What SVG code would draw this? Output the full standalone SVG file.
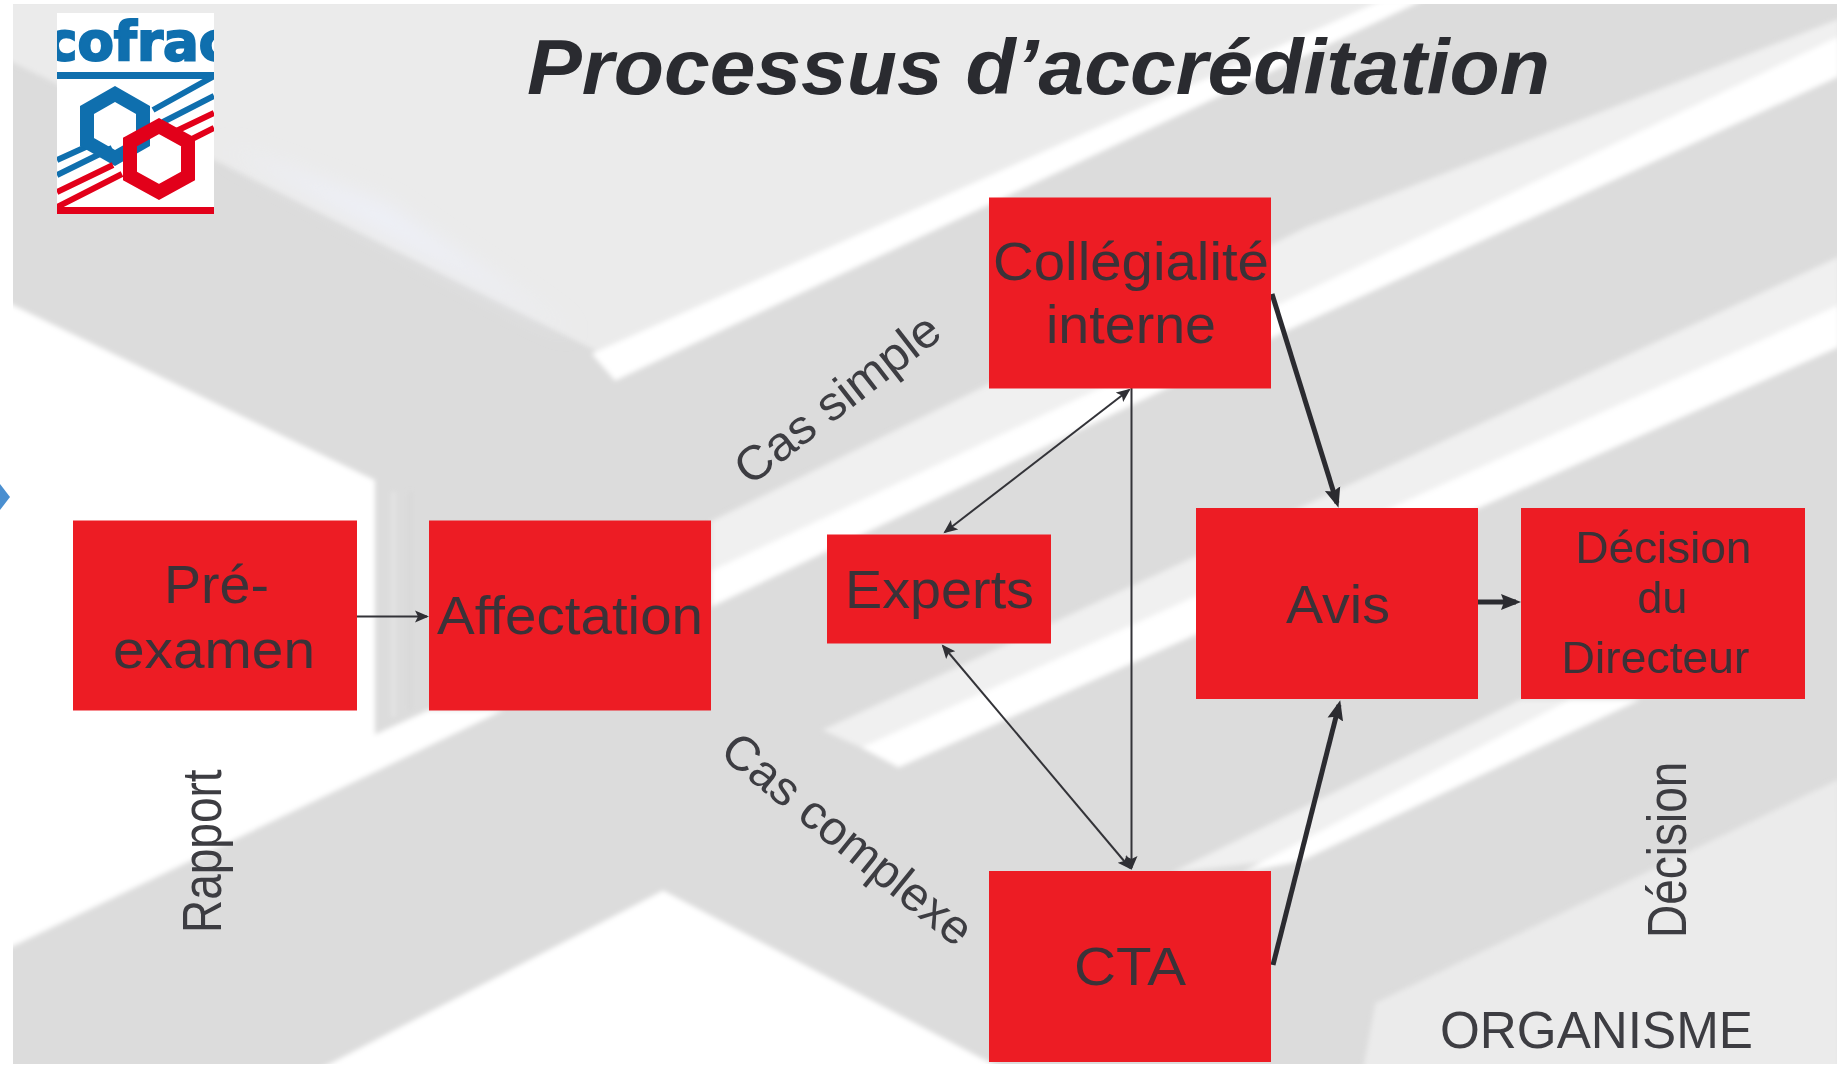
<svg xmlns="http://www.w3.org/2000/svg" width="1837" height="1066" viewBox="0 0 1837 1066">
<style>
.box{fill:#ed1c24}
.t{font-family:"Liberation Sans",Arial,sans-serif;fill:#3b3238}
.l{font-family:"Liberation Sans",Arial,sans-serif;fill:#3d3d42;font-size:46px}
.thin{stroke:#333338;stroke-width:2;fill:none;marker-end:url(#ah);marker-start:url(#ah)}
.thick{stroke:#2b2b30;stroke-width:5;fill:none;marker-end:url(#ahb)}
.w{fill:#fff}.s{fill:#f0f0f0}
.bl{fill:none;stroke:#0f6fae}.rd{fill:none;stroke:#e2001a}
</style>
<defs>
<marker id="ah" markerUnits="userSpaceOnUse" markerWidth="16" markerHeight="14" refX="12" refY="7" orient="auto-start-reverse"><path d="M0 1L14 7L0 13L3 7Z" fill="#2f2f34"/></marker>
<marker id="ahb" markerUnits="userSpaceOnUse" markerWidth="22" markerHeight="20" refX="15" refY="10" orient="auto"><path d="M0 2L20 10L0 18L3 10Z" fill="#2b2b30"/></marker>
<filter id="soft" x="-5%" y="-5%" width="110%" height="110%"><feGaussianBlur stdDeviation="2.2"/></filter>
<filter id="soft2" x="-20%" y="-20%" width="140%" height="140%"><feGaussianBlur stdDeviation="9"/></filter>
<clipPath id="bgclip"><rect x="13" y="4" width="1824" height="1060"/></clipPath>
<clipPath id="logoclip"><rect x="57" y="13" width="157" height="201"/></clipPath>
</defs>
<rect width="1837" height="1066" fill="#fff"/>
<g id="background" clip-path="url(#bgclip)">
<rect x="13" y="4" width="1824" height="1062" fill="#dcdcdc"/>
<g transform="scale(1.1716)" filter="url(#soft)">
<polygon points="0,0 1200,0 510,300 180,135 0,48" fill="#ebebeb"/>
<polygon points="505,302 1180,0 1215,0 525,325" class="w"/>
<polygon points="0,255 320,410 320,627 366,606 430,606 0,813" class="w"/>
<polygon points="566,760 268,915 860,915" class="w"/>
<polygon points="607,445 1115,194 1570,16 1570,32 1099,256 607,487" class="s"/>
<polygon points="607,487 1099,256 1570,31 1570,65 1099,282 607,518" class="w"/>
<polygon points="702,623 735,638 1570,260 1570,219" class="s"/>
<polygon points="735,638 767,655 1570,296 1570,260" class="w"/>
<polygon points="1000,745 1085,735 1400,597 1298,597" class="s"/>
<polygon points="1060,745 1110,735 1400,597 1340,597" class="w"/>
<polygon points="1163,915 1174,856 1570,665 1570,915" fill="#ebebeb"/>
<line x1="336" y1="420" x2="336" y2="612" stroke="#e6e6e6" stroke-width="3"/>
<line x1="350" y1="420" x2="350" y2="606" stroke="#d4d4d4" stroke-width="2"/>
</g>
<polygon transform="scale(1.1716)" points="190,125 490,285 330,175" fill="#eef0f8" filter="url(#soft2)"/>
</g>
<polygon points="0,484 10,497 0,510" fill="#4a8fd0"/>
<g id="logo">
<rect x="57" y="13" width="157" height="201" fill="#fff"/>
<g clip-path="url(#logoclip)">
<text transform="translate(46,60)" font-family="'DejaVu Sans',sans-serif" font-weight="700" font-size="53" fill="#0f6fae" stroke="#0f6fae" stroke-width="2">cofrac</text>
<rect x="57" y="72" width="157" height="7" fill="#0f6fae"/>
<path class="bl" stroke-width="6" d="M214 76L153 110M214 96L163 122M57 160L88 146M57 175L112 148"/>
<polygon class="bl" stroke-width="14" points="115,94 143,110 143,142 115,158 87,142 87,110"/>
<path class="rd" stroke-width="6" d="M214 113L170 134M214 128L190 140M57 192L113 165M57 207L122 174"/>
<rect x="57" y="207" width="157" height="7" fill="#e2001a"/>
<polygon class="rd" stroke-width="14" points="159,126 188,142 188,176 159,192 130,176 130,142"/>
</g>
</g>
<text id="title" x="527" y="94" font-family="'Liberation Sans',Arial,sans-serif" font-weight="700" font-style="italic" font-size="78" fill="#2a2b30" textLength="1023" lengthAdjust="spacingAndGlyphs">Processus d’accréditation</text>
<g id="connectors">
<line class="thin" x1="357" y1="616.5" x2="427" y2="616.5" style="marker-start:none"/>
<line class="thin" x1="1129" y1="390" x2="945" y2="532"/>
<line class="thin" x1="1131.5" y1="388" x2="1131.5" y2="868" style="marker-start:none"/>
<line class="thin" x1="943" y1="646" x2="1130" y2="868"/>
<line class="thick" x1="1272" y1="294" x2="1337" y2="503"/>
<line class="thick" x1="1273" y1="965" x2="1339" y2="705"/>
<line class="thick" x1="1478" y1="602" x2="1516" y2="602"/>
</g>
<g id="node-preexamen"><rect class="box" x="73" y="520.5" width="284" height="190"/>
<text class="t" x="164" y="603" font-size="53" textLength="105" lengthAdjust="spacingAndGlyphs">Pré-</text>
<text class="t" x="113" y="668" font-size="53" textLength="202" lengthAdjust="spacingAndGlyphs">examen</text></g>
<g id="node-affectation"><rect class="box" x="429" y="520.5" width="282" height="190"/>
<text class="t" x="437" y="634" font-size="53" textLength="266" lengthAdjust="spacingAndGlyphs">Affectation</text></g>
<g id="node-experts"><rect class="box" x="827" y="534.5" width="224" height="109"/>
<text class="t" x="845" y="608" font-size="53" textLength="189" lengthAdjust="spacingAndGlyphs">Experts</text></g>
<g id="node-collegialite"><rect class="box" x="989" y="197.5" width="282" height="191"/>
<text class="t" x="993" y="280" font-size="53" textLength="276" lengthAdjust="spacingAndGlyphs">Collégialité</text>
<text class="t" x="1046" y="343" font-size="53" textLength="170" lengthAdjust="spacingAndGlyphs">interne</text></g>
<g id="node-avis"><rect class="box" x="1196" y="508" width="282" height="191"/>
<text class="t" x="1286" y="623" font-size="53" textLength="104" lengthAdjust="spacingAndGlyphs">Avis</text></g>
<g id="node-decision"><rect class="box" x="1521" y="508" width="284" height="191"/>
<text class="t" x="1575" y="563" font-size="44" textLength="176" lengthAdjust="spacingAndGlyphs">Décision</text>
<text class="t" x="1637" y="613" font-size="44" textLength="50" lengthAdjust="spacingAndGlyphs">du</text>
<text class="t" x="1561" y="673" font-size="44" textLength="188" lengthAdjust="spacingAndGlyphs">Directeur</text></g>
<g id="node-cta"><rect class="box" x="989" y="871" width="282" height="191"/>
<text class="t" x="1074" y="985" font-size="53" textLength="112" lengthAdjust="spacingAndGlyphs">CTA</text></g>
<g id="labels">
<text class="l" transform="translate(221,933) rotate(-90) scale(1,1.2)">Rapport</text>
<text class="l" transform="translate(1686,938) rotate(-90) scale(1,1.2)">Décision</text>
<text class="l" x="1440" y="1048" style="font-size:51px" textLength="313" lengthAdjust="spacingAndGlyphs">ORGANISME</text>
<text class="l" transform="translate(750,487) rotate(-37.8)" style="font-size:48px" textLength="246" lengthAdjust="spacingAndGlyphs">Cas simple</text>
<text class="l" transform="translate(718,755) rotate(39)" style="font-size:48px" textLength="307" lengthAdjust="spacingAndGlyphs">Cas complexe</text>
</g>
</svg>
